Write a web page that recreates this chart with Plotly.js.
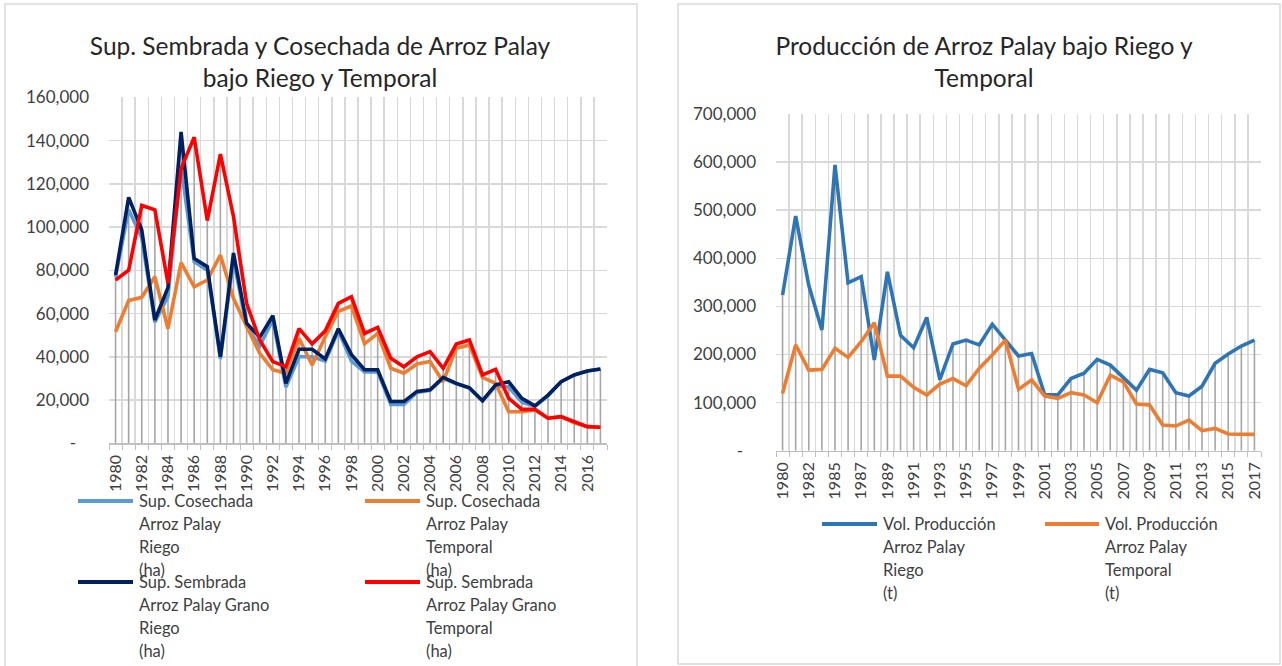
<!DOCTYPE html>
<html>
<head>
<meta charset="utf-8">
<script src="https://cdn.plot.ly/plotly-3.0.1.min.js"></script>
<style>
  html, body { margin:0; padding:0; background:#fff; width:1282px; height:666px; overflow:hidden; }
  #left { position:absolute; left:0; top:0; width:640px; height:666px; }
  #right { position:absolute; left:640px; top:0; width:642px; height:666px; }
</style>
</head>
<body>
<div id="left"></div>
<div id="right"></div>
<script>
// ---------- DATA: left chart (ha) ----------
const yearsA = ['1980','1981','1982','1983','1984','1985','1986','1987','1988','1989',
  '1990','1991','1992','1993','1994','1995','1996','1997','1998','1999',
  '2000','2001','2002','2003','2004','2005','2006','2007','2008','2009',
  '2010','2011','2012','2013','2014','2015','2016','2017'];
const cosechadaRiego = [77000,108000,95000,56000,68000,128000,84000,80000,39000,85000,
  54000,45000,57000,26000,40000,40000,38000,52000,38000,33000,
  33000,18000,18000,23500,24500,30000,27500,25500,19500,26500,
  26000,19000,17000,22000,28500,31600,33400,34400];
const cosechadaTemporal = [51600,66000,67500,77000,53000,83500,72400,75500,87000,67000,
  54000,41600,34000,32400,48500,36200,49300,61000,63500,46000,
  50800,34700,32400,36700,37800,28500,44000,45500,30500,27700,
  14600,14600,15400,11600,12300,9500,7700,7400];
const sembradaRiego = [77800,113700,98600,57000,72000,144000,85500,81700,40000,88000,
  55500,49000,59000,27700,43500,43500,39000,53000,41000,34000,
  34000,19300,19300,24000,24700,30500,27700,25700,19700,27000,
  28500,20800,17300,22300,28500,31600,33400,34400];
const sembradaTemporal = [75500,80000,110000,108000,74000,127000,141500,103000,133700,104800,
  64700,47800,37800,35400,53000,46000,52000,64700,67800,50800,
  53600,39300,35400,40000,42400,34700,45900,47800,31600,34200,
  20800,15700,15700,11600,12300,10000,7700,7400];
const namesA = ['Sup. Cosechada<br>Arroz Palay<br>Riego<br>(ha)',
  'Sup. Cosechada<br>Arroz Palay<br>Temporal<br>(ha)',
  'Sup. Sembrada<br>Arroz Palay Grano<br>Riego<br>(ha)',
  'Sup. Sembrada<br>Arroz Palay Grano<br>Temporal<br>(ha)'];
const titleA = 'Sup. Sembrada y Cosechada de Arroz Palay<br>bajo Riego y Temporal';
const yTicksA = [0,20000,40000,60000,80000,100000,120000,140000,160000];

// ---------- DATA: right chart (t) ----------
const yearsB = ['1980','1981','1982','1984','1985','1986','1987','1988','1989',
  '1990','1991','1992','1993','1994','1995','1996','1997','1998','1999',
  '2000','2001','2002','2003','2004','2005','2006','2007','2008','2009',
  '2010','2011','2012','2013','2014','2015','2016','2017'];
const produccionRiego = [323600,488000,344000,251000,594000,349000,362000,188500,372000,
  240000,214000,277000,148000,222000,230000,220000,263000,230000,197000,
  202000,116000,116000,150000,161000,190000,178000,152000,126000,169000,
  162000,120600,113700,134000,181600,201000,217600,230000];
const produccionTemporal = [119000,220000,167700,169000,212800,194000,226600,266000,155000,
  155000,131700,115700,138600,150000,135000,171000,199000,230000,127500,
  147000,113700,108800,120600,115700,99800,157000,143000,97000,95000,
  53400,51300,63800,41600,46400,34700,34700,34000];
const namesB = ['Vol. Producción<br>Arroz Palay<br>Riego<br>(t)',
  'Vol. Producción<br>Arroz Palay<br>Temporal<br>(t)'];
const titleB = 'Producción de Arroz Palay bajo Riego y<br>Temporal';
const yTicksB = [0,100000,200000,300000,400000,500000,600000,700000];

// ---------- helpers ----------
const FONT = 'Lato, "Open Sans", sans-serif';
const TXT = '#404040';
const H = 666;
function fmt(v){ return v === 0 ? '-\u00a0\u00a0\u00a0' : v.toLocaleString('en-US'); }

function build(el, o) {
  const W = o.width;
  const n = o.cats.length;
  const idx = o.cats.map((c, i) => i);
  const maxVals = idx.map(i => Math.max(...o.series.map(s => s.values[i])));
  const traces = [{
    x: idx, y: maxVals, type:'scatter', mode:'markers',
    marker:{size:1, color:'rgba(0,0,0,0)'}, hoverinfo:'skip', showlegend:false,
    error_y:{type:'data', symmetric:false, array: idx.map(() => 0), arrayminus: maxVals,
      width:0, color:'#a6a6a6', thickness:1.6}
  }];
  o.series.forEach(s => traces.push({
    x: idx, y: s.values, type:'scatter', mode:'lines', name: s.name,
    line:{color:s.color, width:3.6}, showlegend:false
  }));
  const shapes = [{type:'rect', xref:'paper', yref:'paper', x0:o.panel[0]/W, x1:o.panel[1]/W,
    y0:1-o.panel[3]/H, y1:1-o.panel[2]/H, line:{color:'#d9d9d9', width:1.5}, layer:'below'}];
  const annotations = [];
  o.series.forEach((s, k) => {
    const L = o.legend[k];
    shapes.push({type:'line', xref:'paper', yref:'paper', x0:L.x0/W, x1:L.x1/W,
      y0:1-L.y/H, y1:1-L.y/H, line:{color:s.color, width:4}});
    s.name.split('<br>').forEach((t, j) => annotations.push({
      xref:'paper', yref:'paper', x:(L.x1+4)/W, y:1-(L.y+23*j)/H, xanchor:'left', yanchor:'middle',
      text:t, showarrow:false, font:{family:FONT, size:16.5, color:TXT}
    }));
  });
  const evenIdx = idx.filter(i => i % 2 === 0);
  const layout = {
    width: W, height: H, margin:{l:0, r:0, t:0, b:0},
    paper_bgcolor:'#fff', plot_bgcolor:'#fff',
    title:{text:o.title, font:{family:FONT, size:24.5, color:'#262626'},
      x:o.titleX/W, xanchor:'center', xref:'paper', y:1-55/H, yanchor:'middle', yref:'container'},
    xaxis:{domain:[o.plot[0]/W, o.plot[1]/W], range:[-0.5, n-0.5], type:'linear',
      tickmode:'array', tickvals: evenIdx, ticktext: evenIdx.map(i => o.cats[i]),
      tickangle:-90, showgrid:false, zeroline:false, showline:true, linecolor:'#bfbfbf', linewidth:1.2,
      ticks:'', ticklabelstandoff: o.xStand, tickfont:{family:FONT, size:16, color:TXT},
      minor:{tickmode:'linear', tick0:-0.5, dtick:1, showgrid:true, gridcolor:'#d9d9d9', gridwidth:1.5,
        ticks:'outside', ticklen:5, tickcolor:'#bfbfbf'}},
    yaxis:{domain:[1-o.plot[3]/H, 1-o.plot[2]/H], range:[0, o.yTicks[o.yTicks.length-1]],
      tickmode:'array', tickvals:o.yTicks, ticktext:o.yTicks.map(fmt),
      showgrid:true, gridcolor:'#d9d9d9', gridwidth:1.5, zeroline:false, showline:false,
      ticks:'', ticklabelstandoff:19, tickfont:{family:FONT, size:17, color:TXT}},
    shapes, annotations, showlegend:false
  };
  Plotly.newPlot(el, traces, layout, {staticPlot:true, displayModeBar:false});
}

build('left', {
  width:640, cats:yearsA, title:titleA, titleX:320, yTicks:yTicksA, xStand:4,
  plot:[109, 607, 97.3, 443.3], panel:[5, 637, 4, 680],
  series:[
    {name:namesA[0], values:cosechadaRiego, color:'#5B9BD5'},
    {name:namesA[1], values:cosechadaTemporal, color:'#ED7D31'},
    {name:namesA[2], values:sembradaRiego, color:'#002060'},
    {name:namesA[3], values:sembradaTemporal, color:'#FF0000'}],
  legend:[{x0:78, x1:133, y:501},{x0:365, x1:420, y:501},{x0:78, x1:133, y:582},{x0:365, x1:420, y:582}]
});
build('right', {
  width:642, cats:yearsB, title:titleB, titleX:344, yTicks:yTicksB, xStand:4,
  plot:[136, 621, 114, 450.7], panel:[38, 640, 4, 664],
  series:[
    {name:namesB[0], values:produccionRiego, color:'#2E75B6'},
    {name:namesB[1], values:produccionTemporal, color:'#ED7D31'}],
  legend:[{x0:182, x1:237, y:524},{x0:405, x1:459, y:524}]
});
</script>
</body>
</html>
